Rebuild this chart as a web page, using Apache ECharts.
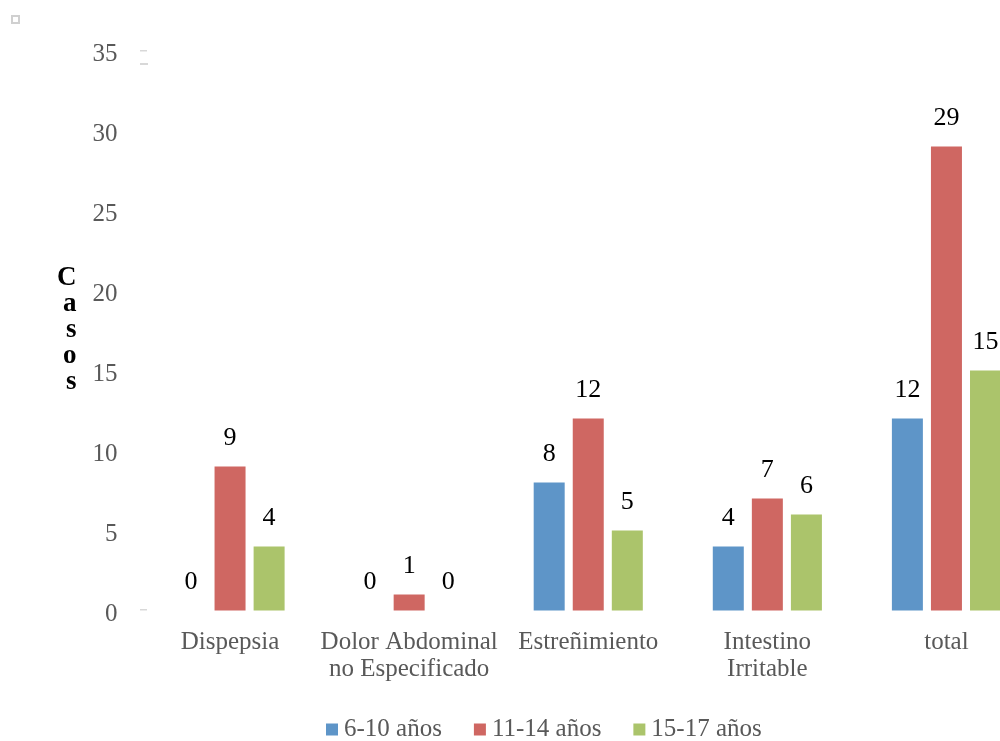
<!DOCTYPE html>
<html><head><meta charset="utf-8">
<script src="https://cdn.jsdelivr.net/npm/echarts@6/dist/echarts.min.js"></script>
<style>html,body{margin:0;padding:0;background:#fff;overflow:hidden;width:1000px;height:741px}#c{width:1036px;height:741px}</style>
</head><body><div id="c"></div>
<script>
const categories = ['Dispepsia', 'Dolor Abdominal\nno Especificado', 'Estreñimiento', 'Intestino\nIrritable', 'total'];
const seriesNames = ['6-10 años', '11-14 años', '15-17 años'];
const s6_10 = [0, 0, 8, 4, 12];
const s11_14 = [9, 1, 12, 7, 29];
const s15_17 = [4, 0, 5, 6, 15];
const colors = ['#5E95C8', '#CF6762', '#ABC46B'];
const font = 'Liberation Serif';
const chart = echarts.init(document.getElementById('c'));
const mk = (name, data, i) => ({
  name, type: 'bar', data, barWidth: 31, barGap: '26%',
  itemStyle: { color: colors[i] },
  label: { show: true, position: 'top', distance: 15, color: '#000', fontFamily: font, fontSize: 26 }
});
chart.setOption({
  animation: false,
  textStyle: { fontFamily: font },
  color: colors,
  grid: { left: 140.5, right: 0, top: 50.5, bottom: 130.5, containLabel: false },
  legend: {
    top: 712, left: 321, itemWidth: 12, itemHeight: 12, itemGap: 32,
    icon: 'rect', textStyle: { fontFamily: font, fontSize: 25, color: '#595959', padding: [0, 0, 0, 1] },
    data: seriesNames
  },
  xAxis: {
    type: 'category', data: categories,
    axisLine: { show: false }, axisTick: { show: false },
    axisLabel: { fontFamily: font, fontSize: 25, color: '#595959', margin: 18, lineHeight: 27, interval: 0 }
  },
  yAxis: {
    type: 'value', min: 0, max: 35, interval: 5,
    name: 'C\na\ns\no\ns', nameLocation: 'middle', nameGap: 64, nameRotate: 0,
    nameTextStyle: { fontFamily: font, fontSize: 27, fontWeight: 'bold', color: '#000', lineHeight: 26 },
    splitLine: { show: false }, axisLine: { show: false }, axisTick: { show: false },
    axisLabel: {
      margin: 23, formatter: '{a|{value}}',
      rich: { a: { fontFamily: font, fontSize: 25, color: '#595959', padding: [7, 0, 0, 0] } }
    }
  },
  graphic: [
    { type: 'rect', shape: { x: 12, y: 16, width: 7, height: 7 }, style: { fill: '#fff', stroke: '#d0d0d0', lineWidth: 2 } },
    { type: 'rect', shape: { x: 140, y: 50, width: 7, height: 1.5 }, style: { fill: '#d8d8d8' } },
    { type: 'rect', shape: { x: 140, y: 63, width: 8, height: 2 }, style: { fill: '#d8d8d8' } },
    { type: 'rect', shape: { x: 140, y: 609, width: 7, height: 1.5 }, style: { fill: '#d8d8d8' } }
  ],
  series: [mk(seriesNames[0], s6_10, 0), mk(seriesNames[1], s11_14, 1), mk(seriesNames[2], s15_17, 2)]
});
</script></body></html>
